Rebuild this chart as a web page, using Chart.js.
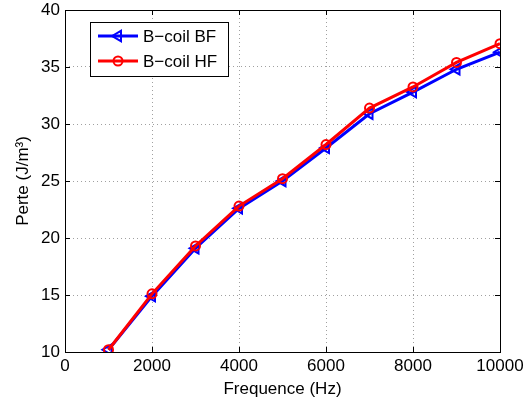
<!DOCTYPE html>
<html>
<head>
<meta charset="utf-8">
<script src="https://cdn.jsdelivr.net/npm/chart.js@4.4.1/dist/chart.umd.min.js"></script>
<style>
  html, body { margin: 0; padding: 0; background: #fff; }
  #wrap { width: 525px; height: 400px; }
</style>
</head>
<body>
<div id="wrap"><canvas id="perteChart" width="525" height="400"></canvas></div>
<script>
// frequencies (Hz) and loss values
const freq = [1000, 2000, 3000, 4000, 5000, 6000, 7000, 8000, 9000, 10000];
const perteBF = [10.2, 14.9, 19.1, 22.6, 25.0, 27.9, 30.9, 32.8, 34.8, 36.3];
const perteHF = [10.2, 15.1, 19.3, 22.8, 25.2, 28.2, 31.4, 33.25, 35.4, 37.05];
const xTicks = [0, 2000, 4000, 6000, 8000, 10000];
const yTicks = [10, 15, 20, 25, 30, 35, 40];

const font = "'Liberation Sans', Arial, sans-serif";
const fs = 17;

function pts(ys) {
  return freq.map((f, i) => ({ x: f, y: ys[i] }));
}

// MATLAB-style box, inner ticks and legend
const matlabBox = {
  id: 'matlabBox',
  afterDatasetsDraw(chart) {
    const ctx = chart.ctx;
    const a = chart.chartArea;
    const xs = chart.scales.x, ys = chart.scales.y;
    ctx.save();
    ctx.strokeStyle = '#000';
    ctx.lineWidth = 1;
    ctx.beginPath();
    xTicks.forEach(t => {
      const px = Math.round(xs.getPixelForValue(t)) + 0.5;
      ctx.moveTo(px, a.bottom); ctx.lineTo(px, a.bottom - 5);
      ctx.moveTo(px, a.top); ctx.lineTo(px, a.top + 5);
    });
    yTicks.forEach(t => {
      const py = Math.round(ys.getPixelForValue(t)) + 0.5;
      ctx.moveTo(a.left, py); ctx.lineTo(a.left + 5, py);
      ctx.moveTo(a.right, py); ctx.lineTo(a.right - 5, py);
    });
    ctx.stroke();
    ctx.strokeRect(Math.round(a.left) + 0.5, Math.round(a.top) + 0.5,
      Math.round(a.right - a.left), Math.round(a.bottom - a.top));

    // legend
    const bx = 90.5, by = 22.5, bw = 138, bh = 54;
    ctx.fillStyle = '#fff';
    ctx.fillRect(bx, by, bw, bh);
    ctx.strokeRect(bx, by, bw, bh);
    const rows = [chart.data.datasets[1], chart.data.datasets[0]];
    rows.forEach((ds, i) => {
      const cy = 36 + i * 25;
      ctx.strokeStyle = ds.borderColor;
      ctx.lineWidth = 3;
      ctx.beginPath();
      ctx.moveTo(98, cy); ctx.lineTo(138, cy);
      ctx.stroke();
      ctx.lineWidth = 2;
      ctx.fillStyle = 'rgba(0,0,0,0)';
      Chart.helpers.drawPoint(ctx, {
        pointStyle: ds.pointStyle, radius: ds.pointRadius,
        rotation: ds.pointRotation || 0, borderWidth: 2
      }, 118, cy);
      ctx.fillStyle = '#000';
      ctx.font = fs + 'px ' + font;
      ctx.textBaseline = 'middle';
      ctx.fillText(ds.label, 143, cy + 1);
    });
    ctx.restore();
  }
};

const ctx = document.getElementById('perteChart');
new Chart(ctx, {
  type: 'line',
  data: {
    datasets: [
      {
        label: 'B\u2212coil HF',
        data: pts(perteHF),
        borderColor: '#ff0000',
        borderWidth: 3,
        pointStyle: 'circle',
        pointRadius: 4.5,
        pointBorderWidth: 2,
        pointBackgroundColor: 'rgba(0,0,0,0)',
        pointBorderColor: '#ff0000',
        order: 1
      },
      {
        label: 'B\u2212coil BF',
        data: pts(perteBF),
        borderColor: '#0000ff',
        borderWidth: 3,
        pointStyle: 'triangle',
        pointRotation: -90,
        pointRadius: 6,
        pointBorderWidth: 2,
        pointBackgroundColor: 'rgba(0,0,0,0)',
        pointBorderColor: '#0000ff',
        order: 2
      }
    ]
  },
  options: {
    responsive: false,
    animation: false,
    layout: { padding: { top: 10, right: 25, left: 0, bottom: 0 } },
    plugins: { legend: { display: false }, tooltip: { enabled: false } },
    scales: {
      x: {
        type: 'linear',
        min: 0, max: 10000,
        afterBuildTicks: s => { s.ticks = xTicks.map(v => ({ value: v })); },
        afterFit: s => { s.height = 48; s.paddingLeft = 0; s.paddingRight = 0; },
        ticks: { color: '#000', font: { family: font, size: fs }, padding: 4, maxRotation: 0,
                 callback: v => String(v) },
        grid: { color: '#a0a0a0', lineWidth: 1, drawTicks: false },
        border: { display: false, dash: [1, 3] },
        title: { display: true, text: 'Frequence (Hz)', color: '#000', font: { family: font, size: fs }, padding: { top: 0, bottom: 0 } }
      },
      y: {
        min: 10, max: 40,
        afterBuildTicks: s => { s.ticks = yTicks.map(v => ({ value: v })); },
        afterFit: s => { s.width = 65; s.paddingTop = 0; s.paddingBottom = 0; },
        ticks: { color: '#000', font: { family: font, size: fs }, padding: 5,
                 callback: v => String(v) },
        grid: { color: '#a0a0a0', lineWidth: 1, drawTicks: false },
        border: { display: false, dash: [1, 3] },
        title: { display: true, text: 'Perte (J/m\u00b3)', color: '#000', font: { family: font, size: fs }, padding: { top: 13, bottom: 0 } }
      }
    }
  },
  plugins: [matlabBox]
});
</script>
</body>
</html>
